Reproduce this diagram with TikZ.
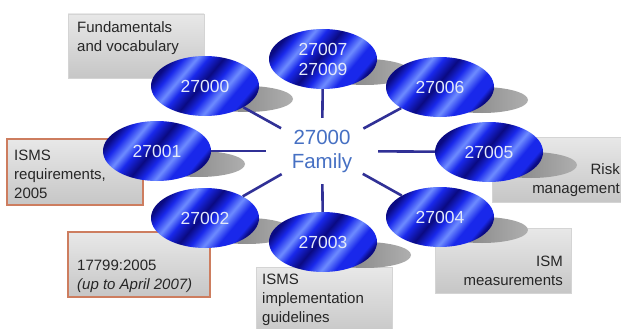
\documentclass[tikz,border=0pt]{standalone}
\usepackage{fontspec}
\setmainfont{Liberation Sans}
\usetikzlibrary{shapes.geometric}
\definecolor{bdark}{RGB}{10,10,130}
\definecolor{bmid}{RGB}{25,40,235}
\definecolor{blight}{RGB}{110,140,255}
\definecolor{linec}{RGB}{48,48,150}
\definecolor{famc}{RGB}{70,112,195}
\definecolor{numc}{RGB}{228,234,250}
\definecolor{orangeb}{RGB}{205,125,95}
\definecolor{grayb}{RGB}{212,212,212}
\definecolor{boxtop}{RGB}{232,232,232}
\definecolor{boxbot}{RGB}{198,198,198}
\definecolor{shdark}{RGB}{118,118,118}
\definecolor{shlight}{RGB}{175,175,175}
\pgfdeclarehorizontalshading{blueband}{100bp}{color(0bp)=(bdark); color(25bp)=(bdark); color(30bp)=(bmid); color(36bp)=(blight); color(41bp)=(bmid); color(48bp)=(bdark); color(54bp)=(bmid); color(60bp)=(blight); color(66bp)=(bmid); color(72bp)=(bmid); color(75bp)=(bdark); color(100bp)=(bdark)}
\tikzset{
  disc/.style={ellipse, minimum width=108pt, minimum height=60pt, inner sep=0pt,
    shading=blueband, shading angle=-40, text=numc, font=\fontsize{17.5}{20}\selectfont, align=center},
  shadowell/.style={left color=shdark, right color=shlight},
  infobox/.style={rectangle, inner sep=0pt, top color=boxtop, bottom color=boxbot, draw=grayb, line width=0.8pt},
  redbox/.style={infobox, draw=orangeb, line width=1.2pt},
  lbl/.style={inner sep=0pt, font=\fontsize{15}{19}\selectfont, text=black!85},
  conn/.style={draw=linec, line width=2.6pt},
  fam/.style={ellipse, minimum width=112pt, minimum height=66pt, inner sep=0pt, align=center,
    text=famc, font=\fontsize{20.5}{24}\selectfont}
}
\begin{document}
\begin{tikzpicture}[x=1pt,y=-1pt]
\useasboundingbox (0,0) rectangle (621,329);
\clip (0,0) rectangle (621,329);
\fill[white] (0,0) rectangle (621,329);
% boxes
\node[infobox, minimum width=136pt, minimum height=64pt] (bfund) at (136,46) {};
\node[redbox, minimum width=136pt, minimum height=66pt] (breq) at (75,172) {};
\node[redbox, minimum width=142pt, minimum height=65pt] (b17799) at (139,264.5) {};
\node[infobox, minimum width=136pt, minimum height=70pt] (bimpl) at (324,302) {};
\node[infobox, minimum width=136pt, minimum height=65pt] (bmeas) at (503,260.5) {};
\node[infobox, minimum width=136pt, minimum height=65pt] (brisk) at (560,169.5) {};
% labels
\node[lbl, anchor=west, align=left] (tfund) at (77,38) {Fundamentals\\and vocabulary};
\node[lbl, anchor=west, align=left] (treq) at (14,174) {ISMS\\requirements,\\2005};
\node[lbl, anchor=west, align=left] (t17799) at (77,276) {17799:2005\\\textit{(up to April 2007)}};
\node[lbl, anchor=west, align=left] (timpl) at (262,300) {ISMS\\implementation\\guidelines};
\node[lbl, anchor=east, align=right] (tmeas) at (563,271) {ISM\\measurements};
\node[lbl, anchor=east, align=right] (trisk) at (620,180) {Risk\\management};
% shadows
\foreach \cx/\cy in {205/86, 157/151, 205/218, 323/242, 440/217, 489/152, 440/87, 323/59}
  \shade[shadowell] (\cx+42,\cy+13) ellipse (46 and 13);
% discs
\node[disc] (e27000) at (205,86) {27000};
\node[disc] (e27001) at (157,151) {27001};
\node[disc] (e27002) at (205,218) {27002};
\node[disc] (e27003) at (323,242) {27003};
\node[disc] (e27004) at (440,217) {27004};
\node[disc] (e27005) at (489,152) {27005};
\node[disc] (e27006) at (440,87) {27006};
\node[disc] (e27007) at (323,59) {27007\\27009};
% centre
\node[fam] (family) at (322,151) {27000\\Family};
% connectors
\foreach \t in {e27000,e27001,e27002,e27003,e27004,e27005,e27006,e27007}
  \draw[conn] (family) -- (\t);
\end{tikzpicture}
\end{document}
